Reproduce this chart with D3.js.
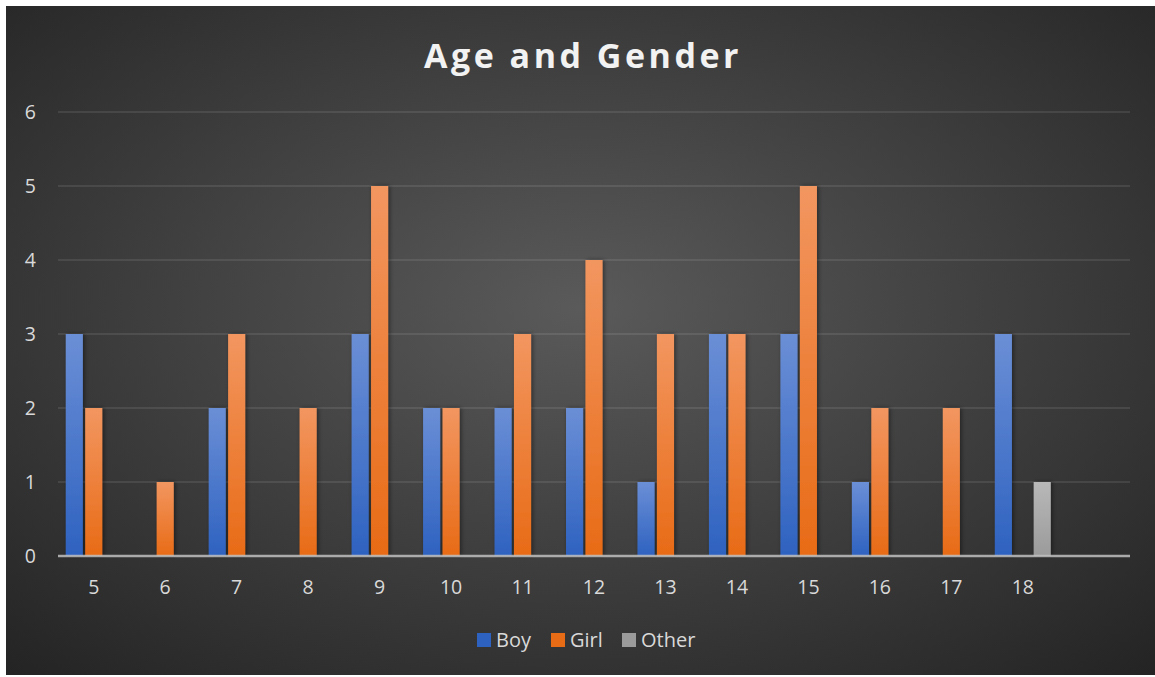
<!DOCTYPE html>
<html>
<head>
<meta charset="utf-8">
<script src="https://d3js.org/d3.v7.min.js"></script>
<style>
  body { margin: 0; background: #fff; }
</style>
</head>
<body>
<div id="chart"></div>
<script>
// data
var ages = ["5","6","7","8","9","10","11","12","13","14","15","16","17","18",""];
var seriesNames = ["Boy", "Girl", "Other"];
var boy   = [3,0,2,0,3,2,2,2,1,3,3,1,0,3,0];
var girl  = [2,1,3,2,5,2,3,4,3,3,5,2,2,0,0];
var other = [0,0,0,0,0,0,0,0,0,0,0,0,0,1,0];
var yTicks = [0,1,2,3,4,5,6];

var W = 1155, H = 677;
var margin = {top: 112, left: 58, right: 25, bottom: 121};

var svg = d3.select("#chart").append("svg")
  .attr("width", W).attr("height", H);

var defs = svg.append("defs");

// background radial gradient
var bg = defs.append("radialGradient").attr("id", "bg")
  .attr("cx", "50%").attr("cy", "45%").attr("r", "75%");
bg.append("stop").attr("offset", "0%").attr("stop-color", "#5a5a5a");
bg.append("stop").attr("offset", "100%").attr("stop-color", "#232323");

// bar gradients
var colors = {
  Boy:   ["#6b8fd6", "#2e62c0"],
  Girl:  ["#f29660", "#e86b16"],
  Other: ["#b8b8b8", "#9b9b9b"]
};
seriesNames.forEach(function(s) {
  var g = defs.append("linearGradient").attr("id", "g" + s)
    .attr("x1", 0).attr("y1", 0).attr("x2", 0).attr("y2", 1);
  g.append("stop").attr("offset", "0%").attr("stop-color", colors[s][0]);
  g.append("stop").attr("offset", "100%").attr("stop-color", colors[s][1]);
});

var shadow = defs.append("filter").attr("id", "shadow")
  .attr("x", "-50%").attr("y", "-10%").attr("width", "200%").attr("height", "120%");
shadow.append("feDropShadow").attr("dx", 1.5).attr("dy", 0)
  .attr("stdDeviation", 2).attr("flood-color", "#000").attr("flood-opacity", 0.45);

svg.append("rect").attr("x", 6).attr("y", 6)
  .attr("width", W - 6).attr("height", H - 8)
  .attr("fill", "url(#bg)");

var plotW = 1130 - margin.left;
var plotH = 556 - margin.top;

var g = svg.append("g")
  .attr("transform", "translate(" + margin.left + "," + margin.top + ")");

var x0 = d3.scaleBand().domain(ages).range([0, plotW])
  .paddingInner(0.217).paddingOuter(0.1085);
var x1 = d3.scaleBand().domain(seriesNames).range([0, x0.bandwidth()])
  .paddingInner(0.12);
var y = d3.scaleLinear().domain([0, 6]).range([plotH, 0]);

// gridlines
g.selectAll(".grid").data(yTicks.slice(1)).enter().append("line")
  .attr("x1", 0).attr("x2", plotW)
  .attr("y1", function(d) { return y(d); }).attr("y2", function(d) { return y(d); })
  .attr("stroke", "#ffffff").attr("stroke-opacity", 0.12).attr("stroke-width", 1.5);

// y labels
g.selectAll(".ylab").data(yTicks).enter().append("text")
  .attr("x", -22).attr("y", function(d) { return y(d); })
  .attr("dy", "0.35em").attr("text-anchor", "end")
  .attr("fill", "#d9d9d9")
  .style("font-family", "'Open Sans', sans-serif").style("font-size", "19.5px")
  .text(function(d) { return d; });

// bars
var values = {Boy: boy, Girl: girl, Other: other};
var rows = ages.map(function(a, i) {
  return seriesNames.map(function(s) { return {age: a, s: s, v: values[s][i]}; });
});

g.selectAll(".cat").data(rows).enter().append("g")
  .attr("transform", function(d) { return "translate(" + x0(d[0].age) + ",0)"; })
  .selectAll("rect").data(function(d) { return d.filter(function(e) { return e.v > 0; }); })
  .enter().append("rect")
  .attr("x", function(d) { return x1(d.s); })
  .attr("width", x1.bandwidth())
  .attr("y", function(d) { return y(d.v); })
  .attr("height", function(d) { return y(0) - y(d.v); })
  .attr("fill", function(d) { return "url(#g" + d.s + ")"; })
  .attr("filter", "url(#shadow)");

// baseline
g.append("line").attr("x1", 0).attr("x2", plotW)
  .attr("y1", y(0)).attr("y2", y(0))
  .attr("stroke", "#bfbfbf").attr("stroke-opacity", 0.85).attr("stroke-width", 2.5);

// x labels
g.selectAll(".xlab").data(ages).enter().append("text")
  .attr("x", function(d) { return x0(d) + x0.bandwidth() / 2; })
  .attr("y", plotH + 38)
  .attr("text-anchor", "middle")
  .attr("fill", "#d9d9d9")
  .style("font-family", "'Open Sans', sans-serif").style("font-size", "19.5px")
  .text(function(d) { return d; });

// title
svg.append("text")
  .attr("x", 583).attr("y", 68)
  .attr("text-anchor", "middle")
  .attr("fill", "#f2f2f2")
  .style("font-family", "'Open Sans', sans-serif")
  .style("font-size", "34px").style("font-weight", "bold")
  .style("letter-spacing", "3.5px")
  .text("Age and Gender");

// legend
var legendX = [477, 551, 622];
var legend = svg.append("g");
seriesNames.forEach(function(s, i) {
  legend.append("rect").attr("x", legendX[i]).attr("y", 633)
    .attr("width", 14).attr("height", 14)
    .attr("fill", colors[s][1]);
  legend.append("text").attr("x", legendX[i] + 19).attr("y", 640)
    .attr("dy", "0.35em").attr("fill", "#d9d9d9")
    .style("font-family", "'Open Sans', sans-serif").style("font-size", "20px")
    .text(s);
});
</script>
</body>
</html>
